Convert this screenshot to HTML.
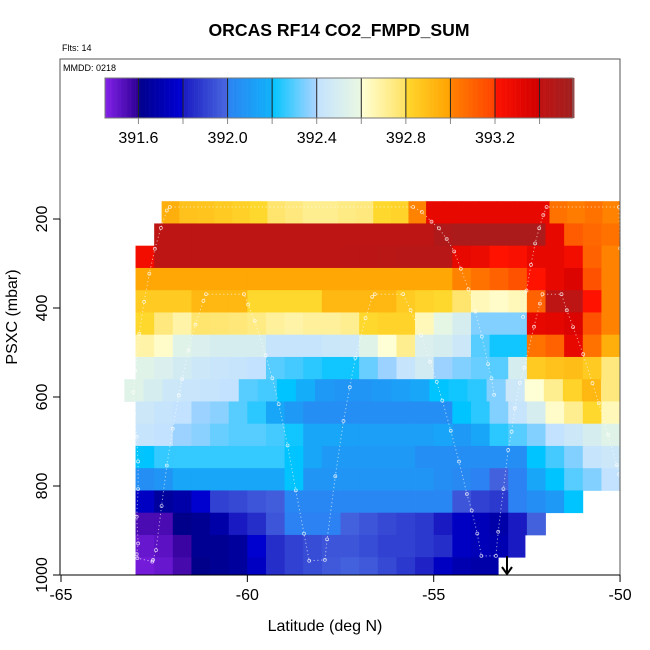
<!DOCTYPE html>
<html><head><meta charset="utf-8">
<style>
html,body{margin:0;padding:0;background:#fff;}
svg{display:block;font-family:"Liberation Sans","DejaVu Sans",sans-serif;}
</style></head>
<body>
<svg id="chart" width="650" height="650" viewBox="0 0 650 650">
  <text x="339" y="36" text-anchor="middle" font-size="17.6" font-weight="bold">ORCAS RF14 CO2_FMPD_SUM</text>
  <text x="62" y="51" font-size="9">Flts: 14</text>
  <g id="cells"></g>
  <g id="track"></g>
  <rect x="60" y="59" width="560" height="516" fill="none" stroke="#555" stroke-width="1"/>
  <text x="63" y="71" font-size="9">MMDD: 0218</text>
  <g id="cbar"></g>
  <g id="axes"></g>
  <text x="325" y="631" text-anchor="middle" font-size="16">Latitude (deg N)</text>
  <text transform="translate(17,317) rotate(-90)" text-anchor="middle" font-size="16">PSXC (mbar)</text>
  <g>
    <line x1="507" y1="556" x2="507" y2="574" stroke="#000" stroke-width="2"/>
    <polyline points="502,567 507,574 512,567" fill="none" stroke="#000" stroke-width="2"/>
  </g>
</svg>
<script>
// ---- data ----
const xTicks = [-65, -60, -55, -50];
const yTicks = [200, 400, 600, 800, 1000];
const cbarTicks = [391.6, 392.0, 392.4, 392.8, 393.2];
const cbarBreaks = [391.6, 391.8, 392.0, 392.2, 392.4, 392.6, 392.8, 393.0, 393.2, 393.4];
const rowTop = [160,210,260,310,360,410,460,510,560,610,660,710,760,810,860,910,960];
const rowStart = [-62.3,-63,-63,-63,-63,-63,-63,-63,-63.3,-63,-63,-63,-63,-63,-63,-63,-63];
const row0 = [392.95,392.88,392.87,392.85,392.83,392.8,392.78,392.75,392.72,392.72,392.74,392.75,392.8,392.82,393.0,393.3,393.3,393.3,393.3,393.3,393.3,393.3,393.05,393.02,393.05,393.0];
const row1 = [null,393.42,393.42,393.42,393.42,393.42,393.42,393.42,393.42,393.42,393.42,393.42,393.42,393.42,393.42,393.42,393.48,393.5,393.5,393.5,393.5,393.5,393.3,393.12,393.08,393.05];
const row2 = [393.25,393.42,393.42,393.42,393.42,393.42,393.42,393.42,393.42,393.42,393.42,393.43,393.43,393.44,393.45,393.45,393.45,393.3,393.28,393.2,393.22,393.3,393.3,393.25,393.1,393.0];
const row3 = [392.98,392.98,392.98,392.98,392.98,392.98,392.98,392.98,392.98,392.98,392.98,392.98,392.98,392.98,392.98,392.98,392.98,393.0,393.05,393.1,393.15,393.2,393.3,393.35,393.15,393.0];
const row4 = [392.85,392.85,392.85,392.92,392.92,392.92,392.8,392.8,392.8,392.8,392.92,392.92,392.92,392.92,392.85,392.82,392.8,392.78,392.65,392.62,392.65,393.1,393.42,393.42,393.2,393.0];
const row5 = [392.8,392.75,392.68,392.78,392.77,392.76,392.74,392.7,392.68,392.7,392.7,392.72,392.8,392.82,392.82,392.65,392.58,392.5,392.35,392.35,392.35,393.3,393.32,393.35,393.15,393.0];
const row6 = [392.68,392.62,392.55,392.52,392.5,392.5,392.5,392.42,392.42,392.42,392.44,392.45,392.55,392.6,392.72,392.52,392.5,392.45,392.3,392.22,392.22,393.05,393.1,393.3,393.05,392.95];
const row7 = [392.55,392.52,392.48,392.45,392.43,392.42,392.4,392.3,392.28,392.25,392.22,392.22,392.32,392.38,392.42,392.48,392.38,392.35,392.32,392.3,392.5,392.85,392.88,392.9,392.85,392.75];
const row8 = [392.55,392.5,392.45,392.43,392.42,392.4,392.3,392.28,392.2,392.18,392.1,392.08,392.08,392.1,392.12,392.15,392.2,392.22,392.25,392.35,392.45,392.6,392.72,392.82,392.92,392.75];
const row9 = [392.45,392.42,392.4,392.38,392.36,392.3,392.25,392.15,392.1,392.05,392.05,392.05,392.05,392.05,392.05,392.05,392.05,392.2,392.25,392.35,392.42,392.5,392.62,392.72,392.8,392.65];
const row10 = [392.42,392.4,392.38,392.36,392.32,392.3,392.3,392.28,392.22,392.15,392.15,392.13,392.12,392.12,392.12,392.12,392.14,392.1,392.15,392.25,392.3,392.35,392.4,392.45,392.5,392.55];
const row11 = [392.2,392.26,392.26,392.26,392.26,392.26,392.26,392.26,392.2,392.15,392.1,392.1,392.1,392.1,392.1,392.05,392.05,392.05,392.05,392.05,392.05,392.2,392.28,392.35,392.42,392.45];
const row12 = [392.05,392.08,392.15,392.15,392.15,392.15,392.15,392.15,392.2,392.08,392.08,392.08,392.08,392.08,392.08,392.08,392.05,392.03,392.0,391.98,392.0,392.15,392.2,392.3,392.35,392.4];
const row13 = [391.75,391.65,391.68,391.78,391.9,391.92,391.95,391.97,392.02,392.02,392.02,392.02,392.02,392.02,392.02,392.02,392.02,391.95,391.9,391.88,392.0,392.05,392.1,392.2,null,null];
const row14 = [391.55,391.55,391.6,391.62,391.68,391.8,391.85,391.95,392.0,392.0,392.0,391.98,391.95,391.92,391.9,391.88,391.8,391.75,391.72,391.68,391.8,391.98,null,null,null,null];
const row15 = [391.5,391.52,391.58,391.62,391.62,391.65,391.78,391.85,391.9,391.93,391.95,391.95,391.93,391.9,391.9,391.88,391.85,391.75,391.72,391.7,391.8,null,null,null,null,null];
const row16 = [391.48,391.5,391.56,391.6,391.62,391.65,391.75,391.85,391.9,391.93,391.96,391.98,391.96,391.92,391.88,391.82,391.75,391.7,391.68,391.68,null,null,null,null,null,null];
const rowEnd = [-50,-50,-50,-50,-50,-50,-50,-50,-50,-50,-50,-50,-50,-51.0,-51.8,-52.55,-53.27];
const rows = [row0,row1,row2,row3,row4,row5,row6,row7,row8,row9,row10,row11,row12,row13,row14,row15,row16];
// flight track waypoints [lat, pressure]
const track1Lat = [-62.53,-62.45,-62.3,-62.16,-62.0,-61.84,-61.75,-61.58,-61.39,-61.18,-61.11,-60.09,-59.98,-59.8,-59.51,-59.33,-59.16,-58.92,-58.7,-58.48,-58.34,-57.92,-57.86,-57.64,-57.42,-57.25,-57.1,-56.83,-56.65,-56.58,-55.82,-55.62,-55.34,-55.1,-54.92,-54.77,-54.54,-54.32,-54.11,-53.98,-53.83,-53.72,-53.33,-53.27,-53.13,-53.0,-52.91,-52.82,-52.69,-52.57,-52.31,-52.15,-52.08,-51.57,-51.43,-51.26,-50.99,-50.74,-50.57,-50.32,-50.09,-50.03];
const track1P = [966,944,845,754,671,596,560,495,437,384,369,369,392,429,506,558,616,709,810,907,968,966,920,778,654,578,512,423,375,369,369,405,461,521,566,608,676,745,818,855,907,957,957,903,807,719,678,625,568,534,442,390,369,369,405,443,504,569,614,685,753,774];
const track2Lat = [-62.55,-62.95,-62.97,-62.93,-62.97,-62.93,-62.93,-62.97,-63.04,-63.06,-63.01,-62.9,-62.77,-62.63,-62.48,-62.32,-62.16,-62.08,-55.55,-55.32,-55.06,-54.86,-54.65,-54.45,-54.27,-54.07,-53.88,-53.71,-53.54,-53.45,-53.38];
const track2P = [970,962,953,929,869,807,745,689,637,589,541,458,386,323,267,220,181,173,173,184,206,221,245,273,312,358,408,464,526,558,595];
const track3Lat = [-50.0,-50.03,-51.97,-52.06,-52.17,-52.28,-52.39,-52.51,-52.6];
const track3P = [266,173,173,191,221,255,303,361,420];

// ---- scales ----
const X = lat => 61 + (lat + 65) * 37.27;
const Y = p => 219 + (p - 200) * 0.445;
const CB = v => 105 + (v - 391.45) * (468 / 2.1);

const stops = [[391.45,'#8422ea'],[391.599,'#2e0096'],[391.6,'#00008a'],[391.799,'#0000d6'],[391.8,'#1a1ac2'],[391.999,'#4868e0'],[392.0,'#2c82f2'],[392.199,'#10b2fa'],[392.2,'#00c4ff'],[392.399,'#acd4ff'],[392.4,'#c2e2ff'],[392.599,'#eaf8e2'],[392.6,'#ffffd6'],[392.799,'#ffe262'],[392.8,'#ffd82e'],[392.999,'#ffa200'],[393.0,'#ff8200'],[393.199,'#ff4200'],[393.2,'#ff1200'],[393.399,'#d00000'],[393.4,'#c21212'],[393.55,'#a02020']];
function hex(c){return [parseInt(c.slice(1,3),16),parseInt(c.slice(3,5),16),parseInt(c.slice(5,7),16)];}
function color(v){
  if (v <= stops[0][0]) return stops[0][1];
  for (let i=1;i<stops.length;i++){
    if (v <= stops[i][0]){
      const [v0,c0]=stops[i-1],[v1,c1]=stops[i];
      const t=(v-v0)/(v1-v0), a=hex(c0), b=hex(c1);
      return 'rgb('+a.map((x,k)=>Math.round(x+(b[k]-x)*t)).join(',')+')';
    }
  }
  return stops[stops.length-1][1];
}
const NS='http://www.w3.org/2000/svg';
function mk(tag, attrs, parent){const e=document.createElementNS(NS,tag);for(const k in attrs)e.setAttribute(k,attrs[k]);parent.appendChild(e);return e;}

// ---- heatmap ----
const cells=document.getElementById('cells');
rows.forEach((vals,i)=>{
  const s=rowStart[i], w=(-50-s)/vals.length;
  const y0=Y(rowTop[i]), y1=Math.min(Y(rowTop[i]+50),575);
  vals.forEach((v,k)=>{
    if (v===null) return;
    const la=s+k*w; let lb=la+w;
    if (lb>rowEnd[i]) lb=rowEnd[i];
    if (lb<=la) return;
    const r=mk('rect',{x:X(la).toFixed(2),y:y0.toFixed(2),width:(X(lb)-X(la)+0.4).toFixed(2),height:(y1-y0+0.4).toFixed(2),fill:color(v)},cells);
    
    
  });
});

// ---- track ----
const trk=document.getElementById('track');
[[track1Lat,track1P],[track2Lat,track2P],[track3Lat,track3P]].forEach(([la,pp])=>{
  const pts=la.map((l,i)=>X(l).toFixed(1)+','+Y(pp[i]).toFixed(1)).join(' ');
  const pl=mk('polyline',{points:pts,fill:'none',stroke:'#fff','stroke-opacity':'0.6','stroke-width':'1','stroke-dasharray':'1.2 2.6'},trk);
  
  
  la.forEach((l,i)=>{
    const c=mk('circle',{cx:X(l).toFixed(1),cy:Y(pp[i]).toFixed(1),r:'1.5',fill:'none',stroke:'#fff','stroke-opacity':'0.75','stroke-width':'0.8'},trk);
    
    
  });
});

// ---- color bar ----
const cb=document.getElementById('cbar');
for (let v=391.45; v<393.55; v+=0.005){
  const r=mk('rect',{x:CB(v).toFixed(2),y:78,width:(CB(v+0.005)-CB(v)+0.3).toFixed(2),height:40,fill:color(v+0.0025)},cb);
  
  
}
cbarBreaks.forEach(v=>{
  const l=mk('line',{x1:CB(v),x2:CB(v),y1:78,y2:118,stroke:'#222','stroke-width':'1'},cb);
  
  
  const t=mk('line',{x1:CB(v),x2:CB(v),y1:118,y2:124,stroke:'#888','stroke-width':'1'},cb);
  
  
});
mk('rect',{x:105,y:78,width:468,height:40,fill:'none',stroke:'#777','stroke-width':'1'},cb);
cbarTicks.forEach(v=>{
  const t=mk('text',{x:CB(v),y:143,'text-anchor':'middle','font-size':'16'},cb);
  t.textContent=v.toFixed(1);
  
  
});

// ---- axes ----
const ax=document.getElementById('axes');
mk('line',{x1:61,x2:620,y1:575,y2:575,stroke:'#000','stroke-width':'1'},ax);
mk('line',{x1:60,x2:60,y1:219,y2:575,stroke:'#000','stroke-width':'1'},ax);
xTicks.forEach(v=>{
  const l=mk('line',{x1:X(v),x2:X(v),y1:575,y2:582,stroke:'#000'},ax);
  
  
  const t=mk('text',{x:X(v),y:600,'text-anchor':'middle','font-size':'16'},ax);
  t.textContent=String(v);
  
  
});
yTicks.forEach(v=>{
  const l=mk('line',{x1:53,x2:60,y1:Y(v),y2:Y(v),stroke:'#000'},ax);
  
  
  const t=mk('text',{transform:'translate(47,'+Y(v)+') rotate(-90)','text-anchor':'middle','font-size':'16'},ax);
  t.textContent=String(v);
  
  
});
</script>
</body></html>
